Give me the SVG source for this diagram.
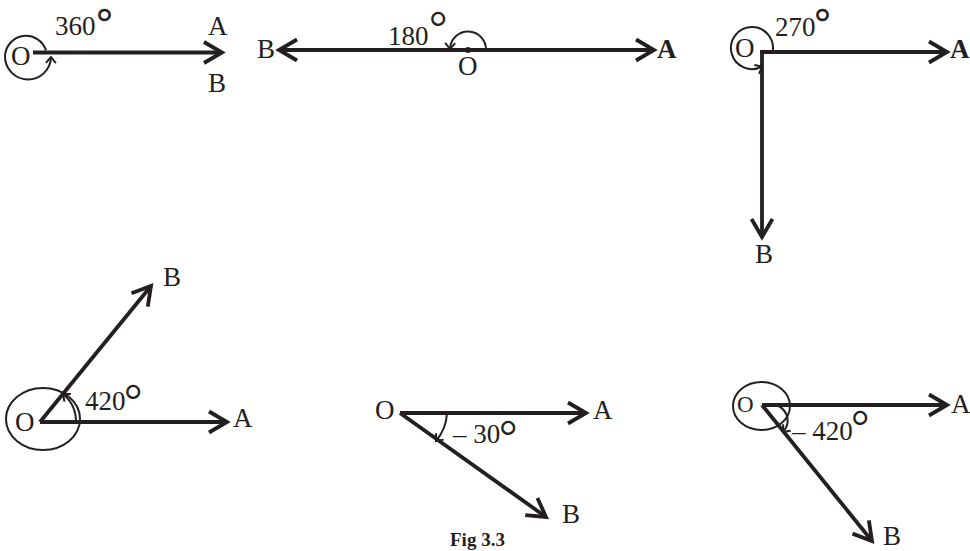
<svg xmlns="http://www.w3.org/2000/svg" width="970" height="551" viewBox="0 0 970 551">
<style>
.ln{stroke:#231f20;stroke-width:3.8;fill:none;stroke-linecap:butt}
.big{marker-end:url(#ah)}
.arc{stroke:#231f20;stroke-width:2;fill:none}
.sm{marker-end:url(#as)}
text{font-family:"Liberation Serif","Times New Roman",serif;font-size:27px;fill:#231f20}
.deg{font-size:46px}
.degs{font-size:40px;stroke:#231f20;stroke-width:0.6}
.b{font-weight:bold}
</style>
<defs>
<marker id="ah" markerUnits="userSpaceOnUse" viewBox="-24 -14 28 28" markerWidth="28" markerHeight="28" refX="0" refY="0" orient="auto-start-reverse">
<path d="M-18,-10.5 L0,0 L-18,10.5" fill="none" stroke="#231f20" stroke-width="3.8" stroke-linejoin="miter"/>
</marker>
<marker id="as" markerUnits="userSpaceOnUse" viewBox="-10 -8 12 16" markerWidth="12" markerHeight="16" refX="0" refY="0" orient="auto">
<path d="M-6,-5 L0,0 L-6,5" fill="none" stroke="#231f20" stroke-width="2"/>
</marker>
</defs>
<g id="connectors">
<line class="ln big" x1="33" y1="52.5" x2="222" y2="52.5"/>
<path class="arc sm" d="M46,50.5 A21,21 0 0 0 5,56 A23,23 0 0 0 51,57"/>
<line class="ln" x1="279" y1="50" x2="654" y2="50" marker-start="url(#ah)" marker-end="url(#ah)"/>
<path class="arc sm" d="M486,50 A18,18 0 0 0 450,49"/>
<line class="ln big" x1="760.1" y1="52" x2="947" y2="52"/>
<line class="ln big" x1="762" y1="50.1" x2="762" y2="237"/>
<path class="arc sm" d="M772.6,52 A21,21 0 1 0 762,66.5"/>
<line class="ln big" x1="40" y1="422" x2="227" y2="422"/>
<line class="ln big" x1="40" y1="422" x2="151" y2="286"/>
<ellipse class="arc" cx="43" cy="419" rx="37" ry="31"/>
<path class="arc sm" d="M76,422 A36,36 0 0 0 63,394"/>
<line class="ln big" x1="400" y1="413" x2="586" y2="413"/>
<line class="ln big" x1="400" y1="413" x2="546" y2="517"/>
<path class="arc sm" d="M447,413 A47,47 0 0 1 436,441"/>
<line class="ln big" x1="762" y1="405" x2="947" y2="405"/>
<line class="ln big" x1="762" y1="405" x2="872" y2="541"/>
<ellipse class="arc" cx="761.5" cy="406" rx="28.5" ry="24"/>
<path class="arc sm" d="M777,405 C790,412 790,424 783,432"/>
<circle cx="468" cy="50" r="3" fill="#231f20"/>
</g>
<g id="fig-360">
<text x="11" y="64.5">O</text>
<text x="55" y="35">360<tspan class="degs" x="96.4" y="36">°</tspan></text>
<text x="208" y="35">A</text>
<text x="208" y="92">B</text>
</g>
<g id="fig-180">
<text x="257" y="58">B</text>
<text class="b" x="657" y="58">A</text>
<text x="388" y="45">180<tspan class="deg" x="429" y="42.5">°</tspan></text>
<text x="458" y="75">O</text>
</g>
<g id="fig-270">
<text x="735" y="57">O</text>
<text x="775" y="36">270<tspan class="degs" x="814.4" y="36">°</tspan></text>
<text class="b" x="950" y="58">A</text>
<text x="755" y="263">B</text>
</g>
<g id="fig-420">
<text x="15" y="431">O</text>
<text x="85" y="410">420<tspan class="deg" x="124" y="415.5">°</tspan></text>
<text x="233" y="427">A</text>
<text x="163" y="286">B</text>
</g>
<g id="fig-minus30">
<text x="375" y="419">O</text>
<text x="593" y="419">A</text>
<text x="562" y="523">B</text>
<text x="453" y="443">– 30<tspan class="deg" x="499" y="451.5">°</tspan></text>
</g>
<g id="fig-minus420">
<text x="737" y="412" style="font-size:23px">O</text>
<text x="951" y="413">A</text>
<text x="883" y="545">B</text>
<text x="792" y="440">– 420<tspan class="deg" x="851" y="441.5">°</tspan></text>
</g>
<g id="caption">
<text class="b" x="450" y="546" style="font-size:19px">Fig 3.3</text>
</g>
</svg>
